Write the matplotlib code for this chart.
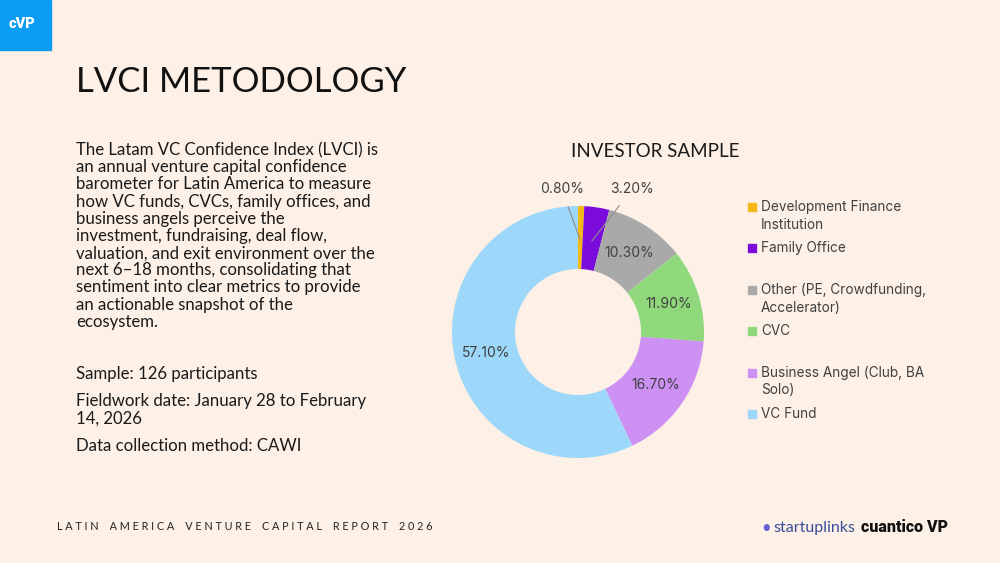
"""Slide LVCI - investor sample donut."""
import numpy as np
import matplotlib; matplotlib.use("Agg"); import matplotlib.pyplot as plt
from matplotlib.patches import Rectangle

# === Donnees ================================================================
categories = ["Development Finance\nInstitution", "Family Office",
              "Other (PE, Crowdfunding,\nAccelerator)", "CVC",
              "Business Angel (Club, BA\nSolo)", "VC Fund"]
shares = [0.8, 3.2, 10.3, 11.9, 16.7, 57.1]
colors = ["#F4B915", "#7A0BDB", "#A9A9A9", "#8FD87B", "#CD90F3", "#9DD8FA"]
outside = [True, True, False, False, False, False]

body = ("The Latam VC Confidence Index (LVCI) is\n"
        "an annual venture capital confidence\n"
        "barometer for Latin America to measure\n"
        "how VC funds, CVCs, family offices, and\n"
        "business angels perceive the\n"
        "investment, fundraising, deal flow,\n"
        "valuation, and exit environment over the\n"
        "next 6\u201318 months, consolidating that\n"
        "sentiment into clear metrics to provide\n"
        "an actionable snapshot of the\n"
        "ecosystem.")
facts = ["Sample: 126 participants",
         "Fieldwork date: January 28 to February\n14, 2026",
         "Data collection method: CAWI"]

BG = "#FDF0E6"
W, H = 1000, 563
plt.rcParams["font.family"] = ["Lato", "DejaVu Sans"]

fig = plt.figure(figsize=(10, 5.63), dpi=100, facecolor=BG)

def px(x, y):
    return x / W, 1 - y / H

# === Bandeau / titre ========================================================
fig.patches.append(Rectangle((0, 1 - 50 / H), 51 / W, 50 / H, transform=fig.transFigure,
                             color="#0C9CF2", zorder=0))
fig.text(*px(22, 24), "cVP", color="white", fontsize=10.5, fontweight="heavy",
         ha="center", va="center", family=["Roboto", "DejaVu Sans"])
fig.text(*px(76, 82), "LVCI METODOLOGY", fontsize=25, color="#111111",
         ha="left", va="center", fontweight="normal")

# === Texte gauche ===========================================================
fig.text(*px(76, 142), body, fontsize=12.1, color="#1a1a1a", ha="left", va="top",
         linespacing=1.09)
ys = [374, 401, 446]
for t, y in zip(facts, ys):
    fig.text(*px(76, y - 8), t, fontsize=12.1, color="#1a1a1a", ha="left", va="top",
             linespacing=1.13)

# === Donut ==================================================================
cx, cy, R = 578, 332, 126
half = 1.3 * R
ax = fig.add_axes([(cx - half) / W, 1 - (cy + half) / H, 2 * half / W, 2 * half / H])
ax.set_facecolor(BG)
wedges, _ = ax.pie(shares, colors=colors, startangle=90, counterclock=False,
                   radius=1, wedgeprops=dict(width=0.5, linewidth=0))
ax.set_xlim(-1.3, 1.3); ax.set_ylim(-1.3, 1.3); ax.set_aspect("equal"); ax.axis("off")

cum = np.cumsum([0] + shares[:-1])
text_pos_out = [(-0.13, 1.135), (0.43, 1.135)]
k = 0
for s, c0, out in zip(shares, cum, outside):
    ang = np.deg2rad(90 - (c0 + s / 2) * 3.6)
    lab = f"{s:.2f}%"
    if out:
        tx, ty = text_pos_out[k]; k += 1
        r = 0.73
        ax.annotate(lab, xy=(r * np.cos(ang), r * np.sin(ang)), xytext=(tx, ty),
                    fontsize=10, color="#404040", ha="center", va="center",
                    family=["Inter", "DejaVu Sans"],
                    arrowprops=dict(arrowstyle="-", color="#8c8c8c", lw=0.8,
                                    shrinkA=6, shrinkB=0))
    else:
        r = 0.75
        ax.text(r * np.cos(ang), r * np.sin(ang), lab, fontsize=10, color="#404040",
                ha="center", va="center", family=["Inter", "DejaVu Sans"])

fig.text(*px(655, 152), "INVESTOR SAMPLE", fontsize=13.5, color="#1a1a1a",
         ha="center", va="center", fontweight="normal")

# === Legende manuelle =======================================================
for i, (lab, col) in enumerate(zip(categories, colors)):
    y = 207 + i * 41.4
    fig.patches.append(Rectangle(px(748, y + 4), 8 / W, 8 / H, transform=fig.transFigure,
                                 color=col))
    fig.text(*px(761, y - 7), lab, fontsize=9.8, color="#404040", ha="left", va="top",
             linespacing=1.35, family=["Inter", "DejaVu Sans"])

# === Pied de page ===========================================================
footer = "LATIN AMERICA VENTURE CAPITAL REPORT 2026"
fig.text(*px(57, 526), " ".join(footer).replace("   ", "    "), fontsize=7.8,
         color="#222222", ha="left", va="center")
fig.text(*px(766, 528), "\u2022", fontsize=12, color="#6B5BD6", ha="center", va="center")
fig.text(*px(773, 528), "startuplinks", fontsize=11.5, color="#3A4E9C",
         ha="left", va="center")
fig.text(*px(948, 527), "cuantico VP", fontsize=11.5, color="#111111",
         ha="right", va="center", fontweight="black", family=["Roboto", "DejaVu Sans"])

plt.savefig("out.png", dpi=100, facecolor=BG)
plt.close()
